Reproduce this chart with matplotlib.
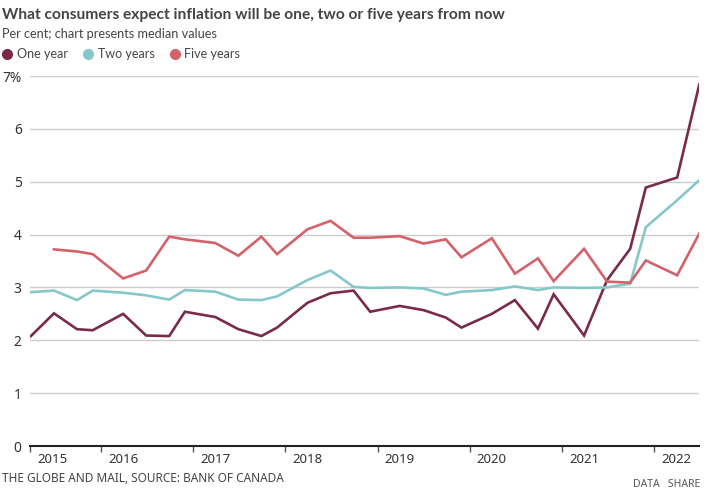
import matplotlib
matplotlib.use('Agg')
import matplotlib.pyplot as plt
import matplotlib.transforms as mtransforms
from matplotlib.lines import Line2D
import numpy as np

plt.rcParams['font.family'] = ['Lato', 'DejaVu Sans']

# survey dates as fractional years
survey_time = [2015.24, 2015.49, 2015.74, 2015.91,
               2016.24, 2016.49, 2016.74, 2016.91,
               2017.24, 2017.49, 2017.74, 2017.91,
               2018.24, 2018.49, 2018.74, 2018.92,
               2019.24, 2019.50, 2019.74, 2019.91,
               2020.24, 2020.49, 2020.74, 2020.91,
               2021.24, 2021.49, 2021.74, 2021.91,
               2022.25, 2022.49]

one_year = [2.08, 2.51, 2.21, 2.19, 2.50, 2.09, 2.08, 2.54,
            2.44, 2.21, 2.08, 2.24, 2.71, 2.89, 2.94, 2.54,
            2.65, 2.57, 2.43, 2.24, 2.50, 2.76, 2.22, 2.87,
            2.09, 3.14, 3.73, 4.89, 5.08, 6.84]

two_years = [2.91, 2.94, 2.76, 2.94, 2.90, 2.85, 2.77, 2.95,
             2.92, 2.77, 2.76, 2.83, 3.14, 3.32, 3.01, 2.99,
             3.00, 2.98, 2.86, 2.92, 2.95, 3.02, 2.95, 3.00,
             2.99, 3.00, 3.07, 4.14, 4.65, 5.03]

five_years = [np.nan, 3.72, 3.68, 3.63, 3.17, 3.32, 3.96, 3.91,
              3.84, 3.60, 3.96, 3.63, 4.10, 4.26, 3.94, 3.94,
              3.97, 3.83, 3.91, 3.57, 3.93, 3.26, 3.55, 3.12,
              3.73, 3.11, 3.09, 3.51, 3.23, 4.02]

series_names = ['One year', 'Two years', 'Five years']
series_colors = ['#7a2b4c', '#86c8ca', '#d3626a']

year_labels = ['2015', '2016', '2017', '2018', '2019', '2020', '2021', '2022']
y_labels = ['0', '1', '2', '3', '4', '5', '6', '7%']

W, H = 715, 490
fig = plt.figure(figsize=(W / 100, H / 100), dpi=100)
ax = fig.add_axes([30 / W, 1 - 446 / H, (699.3 - 30) / W, (446 - 76) / H])

for vals, c in zip([one_year, two_years, five_years], series_colors):
    ax.plot(survey_time, vals, color=c, lw=1.9, solid_joinstyle='miter', zorder=3)

ax.set_xlim(survey_time[0] - 0.01, survey_time[-1])
ax.set_ylim(0, 7)

# y axis
ax.set_yticks(range(8))
ax.set_yticklabels(y_labels, fontsize=10, color='#333333', family=['Noto Sans'])
ax.tick_params(axis='y', length=0, pad=6)
ax.grid(axis='y', color='#cccccc', lw=1)
ax.set_axisbelow(True)

# x axis: first tick at the start of the axis, then one per year
xt = [survey_time[0] - 0.01] + list(range(2016, 2023))
ax.set_xticks(xt)
ax.set_xticklabels(year_labels, fontsize=9.5, color='#333333', family=['Noto Sans'])
ax.tick_params(axis='x', direction='out', length=4, width=1, color='#555555', pad=1)
offset = mtransforms.ScaledTranslation(5 / 72, 0, fig.dpi_scale_trans)
for lab in ax.get_xticklabels():
    lab.set_horizontalalignment('left')
    lab.set_transform(lab.get_transform() + offset)

for s in ['top', 'right', 'left']:
    ax.spines[s].set_visible(False)
ax.spines['bottom'].set_color('#222222')
ax.spines['bottom'].set_linewidth(1.5)

# titles
fig.text(2 / W, 1 - 15 / H, 'What consumers expect inflation will be one, two or five years from now',
         fontsize=11.2, fontweight='bold', color='#444444', va='center', ha='left')
fig.text(2 / W, 1 - 34 / H, 'Per cent; chart presents median values',
         fontsize=9.2, color='#444444', va='center', ha='left')

handles = [Line2D([], [], marker='o', ls='none', markersize=7, color=c) for c in series_colors]
fig.legend(handles, series_names, loc='center left', bbox_to_anchor=(-12 / W, 1 - 54 / H),
           ncol=3, frameon=False, fontsize=9, handletextpad=0.2, columnspacing=1.0,
           handlelength=1.2, labelcolor='#444444')

fig.text(2 / W, 1 - 478 / H, 'THE GLOBE AND MAIL, SOURCE: BANK OF CANADA',
         fontsize=8.5, color='#444444', va='center', ha='left', family=['Noto Sans'])
fig.text(700 / W, 1 - 484 / H, 'DATA   SHARE', fontsize=7.5, color='#555555',
         va='center', ha='right', family=['Noto Sans'])

plt.savefig('out.png', dpi=100)
